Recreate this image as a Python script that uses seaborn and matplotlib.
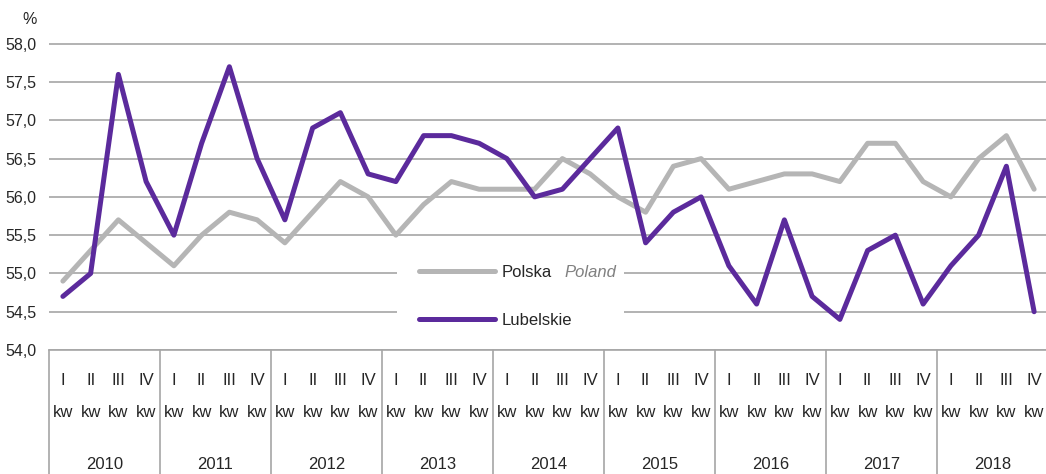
import matplotlib
matplotlib.use("Agg")
import matplotlib.pyplot as plt
import matplotlib.transforms as mtransforms
from matplotlib.patches import Rectangle
from matplotlib.ticker import FuncFormatter
import pandas as pd
import seaborn as sns

# data (quarters 2010 I kw .. 2018 IV kw)
years = ["2010", "2011", "2012", "2013", "2014", "2015", "2016", "2017", "2018"]
quarter_labels = ["I", "II", "III", "IV"]
polska = [54.9, 55.3, 55.7, 55.4, 55.1, 55.5, 55.8, 55.7, 55.4, 55.8, 56.2, 56.0,
          55.5, 55.9, 56.2, 56.1, 56.1, 56.1, 56.5, 56.3, 56.0, 55.8, 56.4, 56.5,
          56.1, 56.2, 56.3, 56.3, 56.2, 56.7, 56.7, 56.2, 56.0, 56.5, 56.8, 56.1]
lubelskie = [54.7, 55.0, 57.6, 56.2, 55.5, 56.7, 57.7, 56.5, 55.7, 56.9, 57.1, 56.3,
             56.2, 56.8, 56.8, 56.7, 56.5, 56.0, 56.1, 56.5, 56.9, 55.4, 55.8, 56.0,
             55.1, 54.6, 55.7, 54.7, 54.4, 55.3, 55.5, 54.6, 55.1, 55.5, 56.4, 54.5]
y_ticks = [54.0, 54.5, 55.0, 55.5, 56.0, 56.5, 57.0, 57.5, 58.0]

df = pd.DataFrame({"idx": range(len(polska)), "polska": polska, "lubelskie": lubelskie})

sns.set_style("white")
plt.rcParams["font.family"] = ["Liberation Sans", "DejaVu Sans"]

GRAY = "#b5b5b5"
PURPLE = "#5b2a9c"
GRID = "#a6a6a6"
FS = 12

fig = plt.figure(figsize=(10.46, 4.74), dpi=100)
ax = fig.add_axes([49 / 1046, 1 - 350 / 474, 999 / 1046, 307 / 474])

sns.lineplot(data=df, x="idx", y="polska", color=GRAY, lw=3.6, label="Polska", ax=ax,
             solid_capstyle="round", zorder=3)
sns.lineplot(data=df, x="idx", y="lubelskie", color=PURPLE, lw=3.6, label="Lubelskie", ax=ax,
             solid_capstyle="round", zorder=4)

ax.set_xlim(-0.5, len(polska) - 0.5)
ax.set_ylim(54, 58.01)
ax.set_yticks(y_ticks)
ax.yaxis.set_major_formatter(FuncFormatter(lambda v, p: f"{v:.1f}".replace(".", ",")))
ax.tick_params(axis="y", length=0, pad=9, labelsize=11.5)
ax.set_xticks([])
ax.set_xlabel("")
ax.set_ylabel("")
ax.set_axisbelow(True)
ax.yaxis.grid(True, color=GRID, lw=1.2)
for s in ["top", "right", "left"]:
    ax.spines[s].set_visible(False)
ax.spines["bottom"].set_color(GRID)
ax.spines["bottom"].set_linewidth(1.2)

ax.text(-0.012, 1.075, "%", transform=ax.transAxes, ha="right", va="center", fontsize=11.5)

# white box behind the legend (breaks the gridlines)
ax.add_patch(Rectangle((0.348, 0.065), 0.228, 0.26, transform=ax.transAxes,
                       facecolor="white", edgecolor="none", zorder=1))
leg = ax.legend(loc="center left", bbox_to_anchor=(0.37, 0.175), frameon=False,
                borderaxespad=0, borderpad=0, handlelength=4.6, handletextpad=0.4,
                labelspacing=1.95, fontsize=FS)

# italic English name placed right after "Polska"
fig.canvas.draw()
bb = leg.get_texts()[0].get_window_extent()
x_after = ax.transAxes.inverted().transform((bb.x1 + 12, 0))[0]
y_mid = ax.transAxes.inverted().transform((0, (bb.y0 + bb.y1) / 2))[1]
ax.text(x_after, y_mid, "Poland", transform=ax.transAxes, ha="left", va="center",
        fontsize=FS, style="italic", color="#808080")

# multi-level category axis below the plot
trans = mtransforms.blended_transform_factory(ax.transData, ax.transAxes)
for k, year in enumerate(years):
    x0 = 4 * k - 0.5
    ax.plot([x0, x0], [0, -0.41], transform=trans, color=GRID, lw=1.2, clip_on=False)
    for q, ql in enumerate(quarter_labels):
        xi = 4 * k + q
        ax.text(xi, -0.098, ql, transform=trans, ha="center", va="center", fontsize=FS)
        ax.text(xi, -0.205, "kw", transform=trans, ha="center", va="center", fontsize=FS)
    ax.text(4 * k + 1.5, -0.372, year, transform=trans, ha="center", va="center", fontsize=FS)

fig.savefig("out.png", dpi=100)
